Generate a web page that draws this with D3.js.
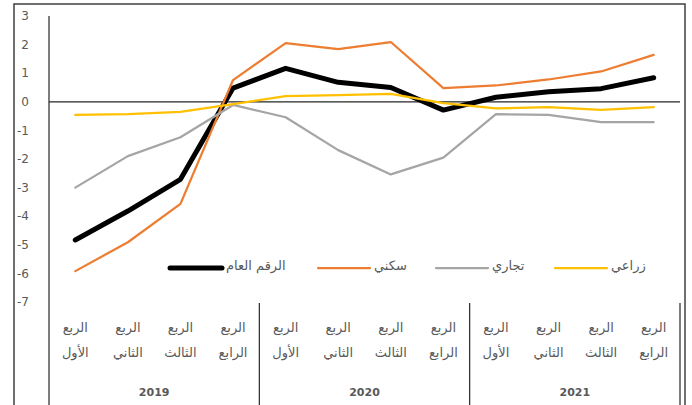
<!DOCTYPE html>
<html>
<head>
<meta charset="utf-8">
<script src="https://cdn.jsdelivr.net/npm/d3@7"></script>
<style>
  body { margin: 0; background: #fff; }
  svg { display: block; font-family: "DejaVu Sans", "Open Sans", sans-serif; }
</style>
</head>
<body>
<div class="chart"></div>
<script>
// quarters left to right, grouped by year
const years = ["2019", "2020", "2021"];
const quarters = ["الأول", "الثاني", "الثالث", "الرابع"];
const yTicks = [3, 2, 1, 0, -1, -2, -3, -4, -5, -6, -7];

const general     = [-4.83, -3.82, -2.71, 0.48, 1.17, 0.68, 0.5, -0.29, 0.16, 0.35, 0.46, 0.84];
const residential = [-5.92, -4.91, -3.57, 0.76, 2.05, 1.84, 2.09, 0.48, 0.57, 0.78, 1.06, 1.64];
const commercial  = [-3.0, -1.9, -1.24, -0.11, -0.54, -1.69, -2.54, -1.95, -0.43, -0.46, -0.71, -0.71];
const agri        = [-0.46, -0.43, -0.35, -0.08, 0.2, 0.23, 0.28, -0.05, -0.23, -0.19, -0.28, -0.19];

const series = [
  { name: "الرقم العام", values: general,     color: "#000000", width: 5 },
  { name: "سكني",       values: residential, color: "#ED7D31", width: 2.25 },
  { name: "تجاري",      values: commercial,  color: "#A5A5A5", width: 2.25 },
  { name: "زراعي",      values: agri,        color: "#FFC000", width: 2.25 }
];

const W = 692, H = 405;
const plot = { left: 49, right: 680, top: 16, bottom: 302 };

const svg = d3.select(".chart").append("svg")
  .attr("width", W)
  .attr("height", H);

svg.append("rect").attr("width", W).attr("height", H).attr("fill", "#fff");

// outer frame
svg.append("rect")
  .attr("x", 14).attr("y", 4)
  .attr("width", 671).attr("height", 440)
  .attr("fill", "none")
  .attr("stroke", "#404040")
  .attr("stroke-width", 1.5);

const idx = d3.range(12);
const x = d3.scaleBand().domain(idx).range([plot.left, plot.right]);
const y = d3.scaleLinear().domain([-7, 3]).range([plot.bottom, plot.top]);

// y labels
svg.append("g").selectAll("text")
  .data(yTicks)
  .enter().append("text")
  .attr("x", 29)
  .attr("y", d => y(d))
  .attr("dy", "0.35em")
  .attr("text-anchor", "end")
  .attr("fill", "#595959")
  .style("font-size", "12px")
  .text(d => d);

// y axis line
svg.append("line")
  .attr("x1", plot.left).attr("x2", plot.left)
  .attr("y1", plot.top).attr("y2", H)
  .attr("stroke", "#262626").attr("stroke-width", 1.2);

// zero line
svg.append("line")
  .attr("x1", plot.left).attr("x2", plot.right)
  .attr("y1", y(0)).attr("y2", y(0))
  .attr("stroke", "#262626").attr("stroke-width", 1.2);

// year separators
svg.append("g").selectAll("line")
  .data([4, 8, 12])
  .enter().append("line")
  .attr("x1", d => d < 12 ? x(d) : plot.right)
  .attr("x2", d => d < 12 ? x(d) : plot.right)
  .attr("y1", plot.bottom + 1).attr("y2", H)
  .attr("stroke", "#262626").attr("stroke-width", 1.2);

// quarter labels
const cat = svg.append("g").selectAll("g")
  .data(idx)
  .enter().append("g")
  .attr("transform", d => `translate(${x(d) + x.bandwidth() / 2},0)`);
cat.append("text")
  .attr("y", 332)
  .attr("text-anchor", "middle")
  .attr("fill", "#595959")
  .style("font-size", "13px")
  .text("الربع");
cat.append("text")
  .attr("y", 357)
  .attr("text-anchor", "middle")
  .attr("fill", "#595959")
  .style("font-size", "13px")
  .text(d => quarters[d % 4]);

// year labels
svg.append("g").selectAll("text")
  .data(years)
  .enter().append("text")
  .attr("x", (d, i) => (x(i * 4) + x(i * 4 + 3) + x.bandwidth()) / 2)
  .attr("y", 396)
  .attr("text-anchor", "middle")
  .attr("fill", "#595959")
  .style("font-size", "11px")
  .style("font-weight", "bold")
  .text(d => d);

// lines
const line = d3.line()
  .x((d, i) => x(i) + x.bandwidth() / 2)
  .y(d => y(d));

svg.append("g").selectAll("path")
  .data(series)
  .enter().append("path")
  .attr("d", d => line(d.values))
  .attr("fill", "none")
  .attr("stroke", d => d.color)
  .attr("stroke-width", d => d.width)
  .attr("stroke-linejoin", "round")
  .attr("stroke-linecap", "round");

// legend
const legendX = [170, 318, 436, 555];
const legend = svg.append("g").selectAll("g")
  .data(series)
  .enter().append("g")
  .attr("transform", (d, i) => `translate(${legendX[i]},268)`);
legend.append("line")
  .attr("x1", 0).attr("x2", 52)
  .attr("stroke", d => d.color)
  .attr("stroke-width", d => d.width)
  .attr("stroke-linecap", "round");
legend.append("text")
  .attr("x", 56)
  .attr("dy", "0.15em")
  .attr("fill", "#595959")
  .style("font-size", "13px")
  .text(d => d.name);
</script>
</body>
</html>
